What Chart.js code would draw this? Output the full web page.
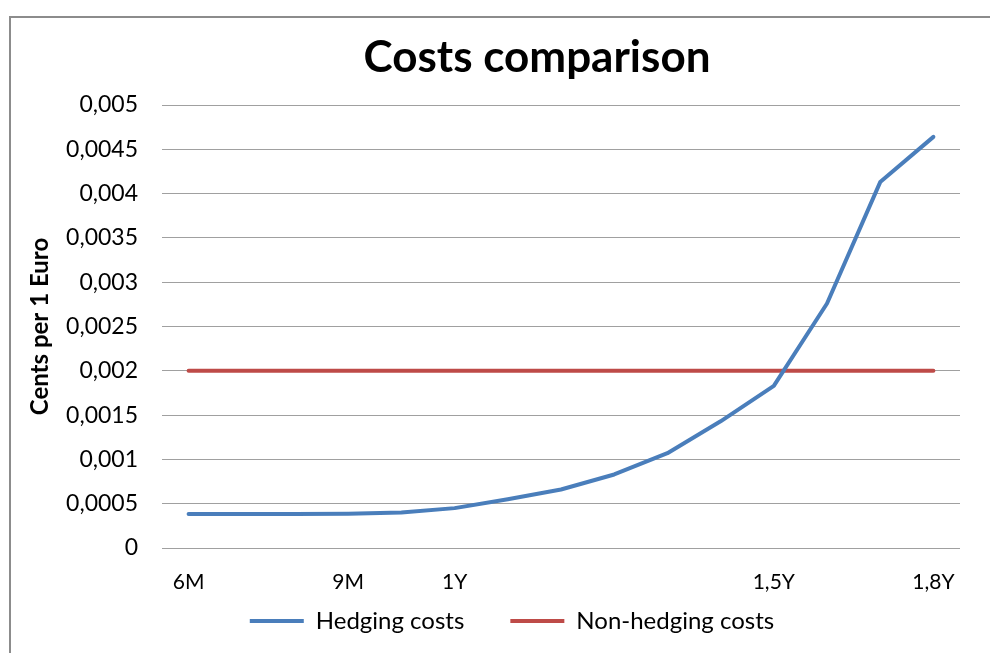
<!DOCTYPE html>
<html>
<head>
<meta charset="utf-8">
<script src="https://cdn.jsdelivr.net/npm/chart.js@4.4.1/dist/chart.umd.min.js"></script>
<style>
    html, body { margin: 0; padding: 0; background: #fff; }
    #wrap { position: relative; width: 990px; height: 653px; }
    #frame {
        position: absolute; left: 9px; top: 16px; right: -10px; bottom: -10px;
        border-left: 2px solid #8c8c8c; border-top: 2px solid #8c8c8c;
    }
    canvas { position: absolute; left: 0; top: 0; }
</style>
</head>
<body>
<div id="wrap">
    <div id="frame"></div>
    <canvas id="costsChart" width="990" height="653"></canvas>
</div>
<script>
// Categories (only a few of them are labelled on the axis)
const periods = ['6M', '', '', '9M', '', '1Y', '', '', '', '', '', '1,5Y', '', '', '1,8Y'];

// Series values, cents per 1 Euro
const hedgingCosts = [0.000385, 0.000385, 0.000385, 0.000387, 0.0004, 0.00045, 0.00055, 0.00066,
    0.00083, 0.00107, 0.00143, 0.00183, 0.00276, 0.00413, 0.00464];
const nonHedgingCosts = [0.002, 0.002, 0.002, 0.002, 0.002, 0.002, 0.002, 0.002,
    0.002, 0.002, 0.002, 0.002, 0.002, 0.002, 0.002];

// Y tick labels (decimal comma)
const yTickLabels = ['0', '0,0005', '0,001', '0,0015', '0,002', '0,0025',
    '0,003', '0,0035', '0,004', '0,0045', '0,005'];

const chartTitle = 'Costs comparison';

const FONT = 'Lato, "Open Sans", sans-serif';

// Title is drawn by hand since it is not centred on the same span as the legend
const titlePlugin = {
    id: 'offsetTitle',
    afterDraw(chart) {
        const c = chart.ctx;
        c.save();
        c.font = 'bold 44px ' + FONT;
        c.fillStyle = '#000';
        c.textAlign = 'center';
        c.textBaseline = 'alphabetic';
        c.fillText(chartTitle, 537, 72);
        c.restore();
    }
};

const ctx = document.getElementById('costsChart').getContext('2d');

const costsChart = new Chart(ctx, {
    type: 'line',
    data: {
        labels: periods,
        datasets: [{
            label: 'Hedging costs',
            data: hedgingCosts,
            borderColor: '#4a7ebb',
            backgroundColor: '#4a7ebb',
            borderWidth: 4,
            borderCapStyle: 'round',
            borderJoinStyle: 'round',
            pointRadius: 0,
            tension: 0
        }, {
            label: 'Non-hedging costs',
            data: nonHedgingCosts,
            borderColor: '#be4b48',
            backgroundColor: '#be4b48',
            borderWidth: 4,
            borderCapStyle: 'round',
            pointRadius: 0,
            tension: 0
        }]
    },
    plugins: [titlePlugin],
    options: {
        responsive: false,
        animation: false,
        layout: {
            padding: { left: 64, right: 30, top: 105, bottom: 10 }
        },
        plugins: {
            title: { display: false },
            legend: {
                position: 'bottom',
                labels: {
                    color: '#000',
                    font: { family: FONT, size: 24 },
                    usePointStyle: true,
                    pointStyle: 'line',
                    pointStyleWidth: 54,
                    padding: 46
                }
            },
            tooltip: { enabled: false }
        },
        scales: {
            x: {
                offset: true,
                grid: { display: false, drawTicks: false },
                border: { display: false },
                ticks: {
                    autoSkip: false,
                    maxRotation: 0,
                    mirror: true, // keeps the labels from being clipped to the short axis box
                    color: '#000',
                    font: { family: FONT, size: 21 },
                    padding: -47
                },
                afterFit: scale => { scale.height = 15; }
            },
            y: {
                min: 0,
                max: 0.005,
                grid: { color: '#a0a0a0', lineWidth: 1, drawTicks: false },
                border: { display: false },
                ticks: {
                    stepSize: 0.0005,
                    color: '#000',
                    font: { family: FONT, size: 23 },
                    padding: 24,
                    callback: (value, index) => yTickLabels[index]
                },
                title: {
                    display: true,
                    text: 'Cents per 1 Euro',
                    color: '#000',
                    font: { family: FONT, size: 24, weight: 'bold' },
                    padding: { top: -38, bottom: 0 }
                },
                afterFit: scale => { scale.width = 98; }
            }
        }
    }
});
</script>
</body>
</html>
